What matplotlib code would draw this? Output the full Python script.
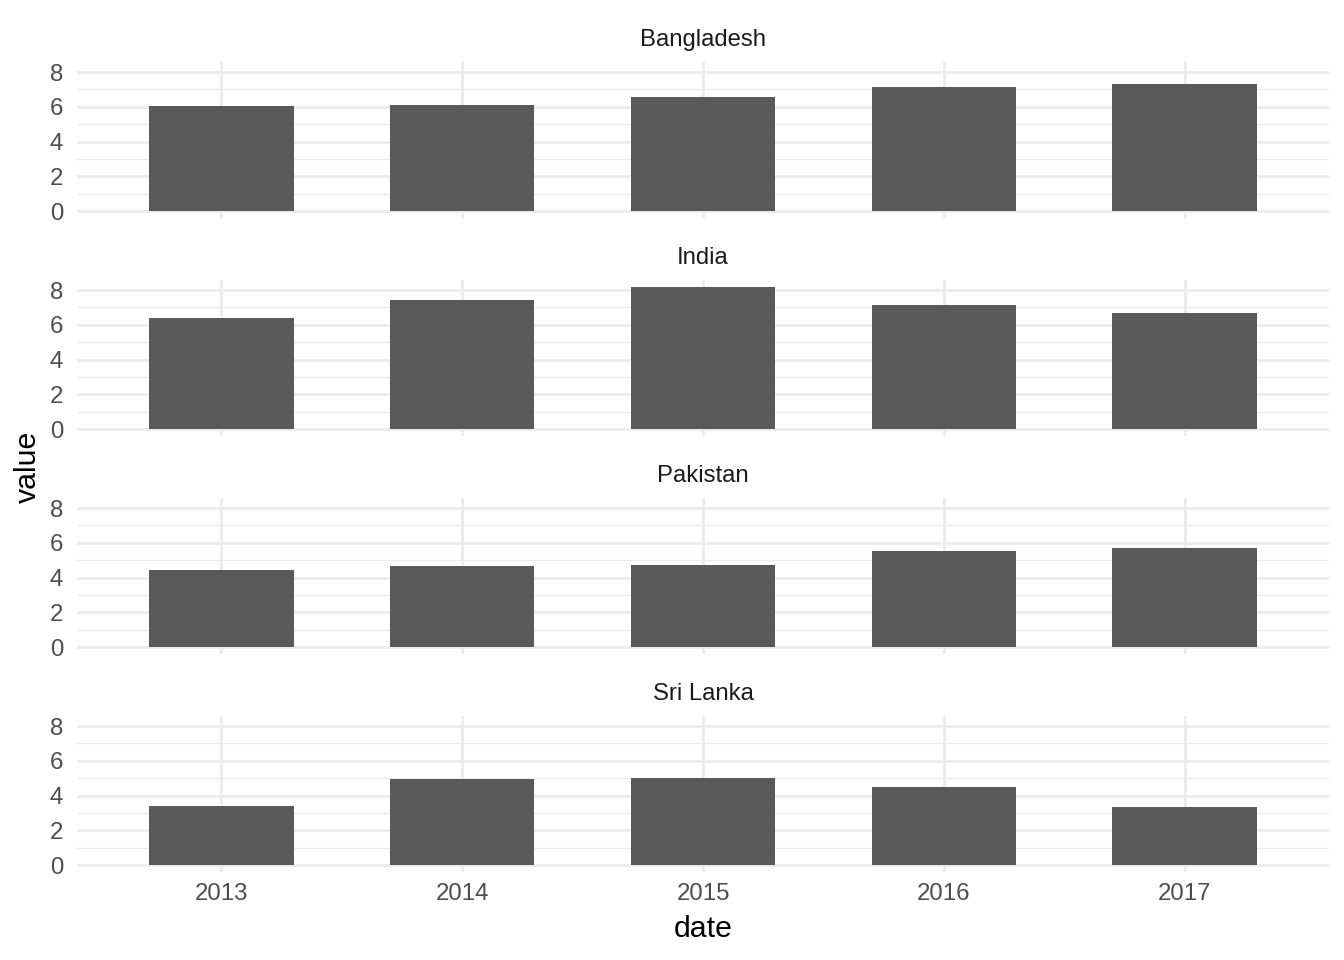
import numpy as np
import matplotlib
matplotlib.use("Agg")
import matplotlib.pyplot as plt

# data
years = [2013, 2014, 2015, 2016, 2017]
countries = ["Bangladesh", "India", "Pakistan", "Sri Lanka"]
bangladesh = [6.04, 6.10, 6.56, 7.14, 7.30]
india = [6.39, 7.42, 8.17, 7.14, 6.68]
pakistan = [4.43, 4.66, 4.72, 5.53, 5.70]
sri_lanka = [3.40, 4.95, 5.01, 4.49, 3.34]
series = [bangladesh, india, pakistan, sri_lanka]

plt.rcParams['font.family'] = ['Liberation Sans', 'DejaVu Sans']

W, H = 1344, 960
fig = plt.figure(figsize=(W / 100, H / 100), dpi=100)

left, right = 77, 1329
panel_tops = [62, 280, 498, 716]
panel_h = 156

grid_major = "#EBEBEB"
bar_col = "#595959"
tick_col = "#4D4D4D"

for i, (name, vals) in enumerate(zip(countries, series)):
    top = panel_tops[i]
    ax = fig.add_axes([left / W, 1 - (top + panel_h) / H, (right - left) / W, panel_h / H])
    ax.bar(years, vals, width=0.6, color=bar_col, zorder=3)
    ax.set_xlim(2012.4, 2017.6)
    ax.set_ylim(-0.40, 8.58)
    ax.set_yticks([0, 2, 4, 6, 8])
    ax.set_yticks([1, 3, 5, 7], minor=True)
    ax.set_xticks(years)
    ax.grid(which="major", color=grid_major, linewidth=2.0, zorder=0)
    ax.grid(which="minor", axis="y", color=grid_major, linewidth=1.0, zorder=0)
    for s in ax.spines.values():
        s.set_visible(False)
    ax.tick_params(which="both", length=0)
    ax.tick_params(axis="y", labelsize=17.3, labelcolor=tick_col, pad=10)
    if i == len(countries) - 1:
        ax.set_xticklabels([str(y) for y in years])
        ax.tick_params(axis="x", labelsize=17.3, labelcolor=tick_col, pad=8)
    else:
        ax.set_xticklabels([])
    fig.text((left + right) / 2 / W, 1 - (top - 22) / H, name,
             ha="center", va="center", fontsize=17.2, color="#1A1A1A")

fig.text(703 / W, 1 - 929 / H, "date", ha="center", va="center", fontsize=21.8)
fig.text(28 / W, 1 - 467 / H, "value", ha="center", va="center", fontsize=21.8, rotation=90)

fig.savefig("out.png", dpi=100, facecolor="white")
